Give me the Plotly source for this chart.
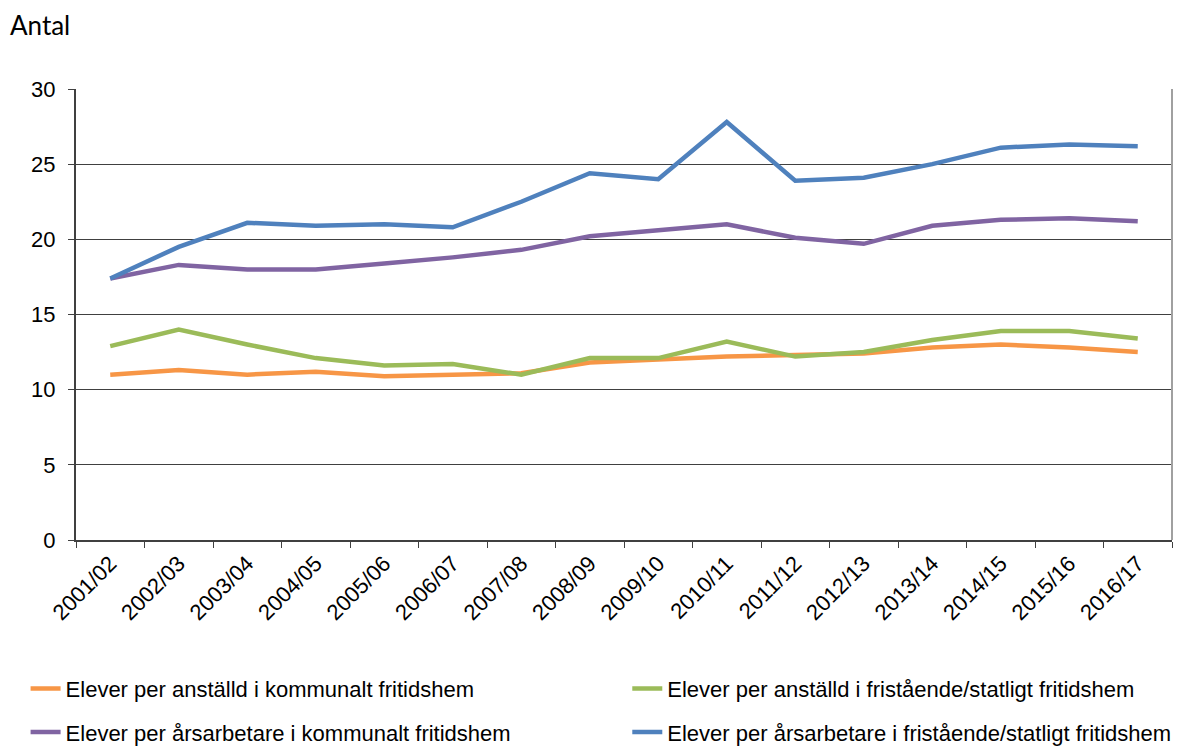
import plotly.graph_objects as go

years = ["2001/02", "2002/03", "2003/04", "2004/05", "2005/06", "2006/07", "2007/08", "2008/09",
         "2009/10", "2010/11", "2011/12", "2012/13", "2013/14", "2014/15", "2015/16", "2016/17"]

anst_kommunal = [11.0, 11.3, 11.0, 11.2, 10.9, 11.0, 11.1, 11.8, 12.0, 12.2, 12.3, 12.4, 12.8, 13.0, 12.8, 12.5]
anst_fristaende = [12.9, 14.0, 13.0, 12.1, 11.6, 11.7, 11.0, 12.1, 12.1, 13.2, 12.2, 12.5, 13.3, 13.9, 13.9, 13.4]
ars_kommunal = [17.4, 18.3, 18.0, 18.0, 18.4, 18.8, 19.3, 20.2, 20.6, 21.0, 20.1, 19.7, 20.9, 21.3, 21.4, 21.2]
ars_fristaende = [17.4, 19.5, 21.1, 20.9, 21.0, 20.8, 22.5, 24.4, 24.0, 27.8, 23.9, 24.1, 25.0, 26.1, 26.3, 26.2]

names = ["Elever per anställd i kommunalt fritidshem",
         "Elever per anställd i fristående/statligt fritidshem",
         "Elever per årsarbetare i kommunalt fritidshem",
         "Elever per årsarbetare i fristående/statligt fritidshem"]
colors = ["#F79646", "#9BBB59", "#8064A2", "#4F81BD"]
legends = ["legend", "legend2", "legend", "legend2"]
series = [anst_kommunal, anst_fristaende, ars_kommunal, ars_fristaende]

fig = go.Figure()
for i, (n, c, s, lg) in enumerate(zip(names, colors, series, legends)):
    fig.add_trace(go.Scatter(x=years, y=s, name=n, mode="lines", legend=lg,
                             legendgroup="g%d" % i,
                             line=dict(color=c, width=4.5)))

font = "Liberation Sans, Arial, sans-serif"
leg_common = dict(orientation="v", yanchor="top", y=-0.283, xanchor="left",
                  font=dict(size=22, color="black", family=font), tracegroupgap=12,
                  bgcolor="rgba(0,0,0,0)")
fig.update_layout(
    width=1187, height=747,
    margin=dict(l=76, r=15, t=89, b=207, autoexpand=False),
    paper_bgcolor="white", plot_bgcolor="white",
    font=dict(family=font, size=22, color="black"),
    showlegend=True,
    legend=dict(x=-0.046, **leg_common),
    legend2=dict(x=0.503, **leg_common),
    xaxis=dict(type="category", range=[-0.5, 15.5], tickangle=-45,
               tickson="boundaries", ticks="outside", ticklen=6,
               tickcolor="#404040", showline=True, linecolor="#404040", linewidth=2,
               showgrid=False, tickfont=dict(size=22), automargin=False),
    yaxis=dict(range=[0, 30], dtick=5, ticks="outside", ticklen=6, tickcolor="#404040",
               showline=True, linecolor="#404040", linewidth=2,
               showgrid=True, gridcolor="#404040", gridwidth=1,
               tickfont=dict(size=22), zeroline=False, ticklabelstandoff=8,
               automargin=False),
)
fig.add_annotation(text="Antal", xref="paper", yref="paper", x=-76/1096, y=1 + (89 - 25) / 451,
                   xanchor="left", yanchor="middle", showarrow=False,
                   font=dict(size=26, family="Lato, Open Sans, sans-serif"), xshift=8)
# right border
fig.add_shape(type="line", xref="paper", yref="paper", x0=1, x1=1, y0=0, y1=1,
              line=dict(color="#A0A0A0", width=2))
fig.write_html("out.html", config={"displayModeBar": False},
               post_script="document.body.style.margin='0';")
